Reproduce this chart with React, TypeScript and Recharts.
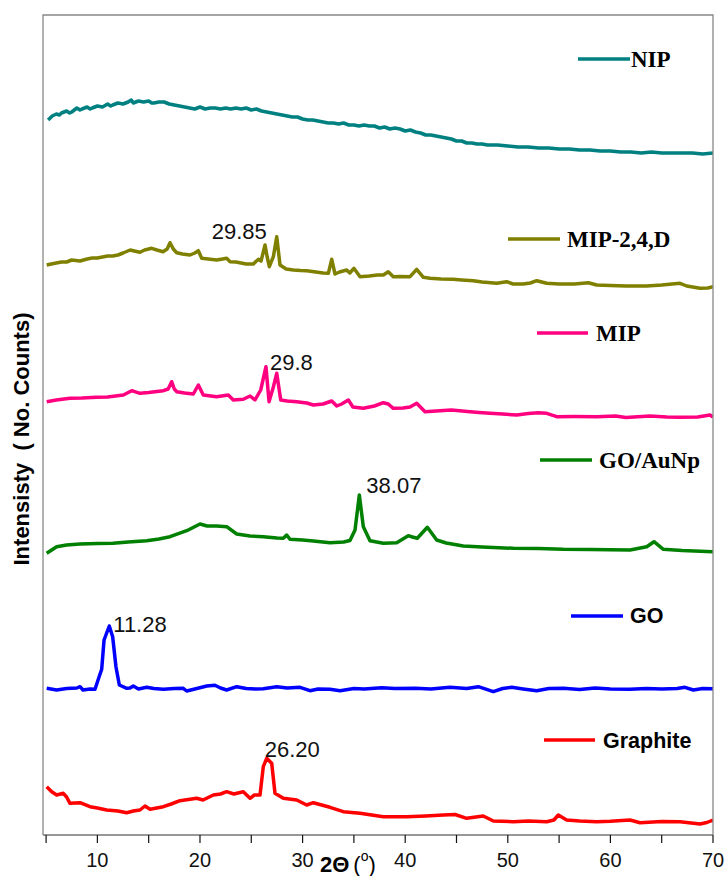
import React from 'react';
import { LineChart, Line, XAxis, YAxis, ReferenceDot } from 'recharts';

// 2θ (degrees) and intensity (arbitrary counts, stacked offsets)
const NIP: number[][] = [[5.2,715],[5.6,719],[6,721],[6.3,720],[6.5,722],[7,724],[7.3,722],[7.5,723],[8,727],[8.3,725],[8.5,726],[9,728],[9.3,726],[9.5,727],[10,729],[10.5,728],[11,731],[11.3,729],[11.5,730],[12,732],[12.5,731],[13,733],[13.3,735],[13.5,732],[14,734],[14.5,733],[15,734],[15.3,732],[15.5,732],[16,733],[16.5,733],[17,731],[17.5,730],[18,729],[18.5,728],[19,727],[19.5,726],[20,728],[20.5,726],[21,727],[21.5,727],[22,726],[22.5,727],[23,726],[23.5,727],[24,726],[24.5,727],[25,725],[25.5,726],[26,724],[26.5,723],[27,722],[27.5,721],[28,720],[28.5,719],[29,718],[29.5,718],[30,716],[30.5,715],[31,715],[31.5,714],[32,713],[32.5,712],[33,712],[33.5,711],[34,712],[34.5,710],[35,710],[35.5,709],[36,710],[36.5,709],[37,709],[37.5,707],[38,708],[38.5,706],[39,707],[39.5,706],[40,704],[40.5,705],[41,703],[41.5,702],[42,700],[42.5,700],[43,699],[43.5,698],[44,697],[44.5,696],[45,694],[45.5,694],[46,692],[46.5,692],[47,691],[47.5,691],[48,690],[48.5,690],[49,690],[50,689],[51,688],[52,688],[53,687],[54,687],[55,686],[56,686],[57,685],[58,685],[59,684],[60,684],[61,683],[62,683],[63,682],[64,683],[65,682],[66,682],[67,682],[68,682],[69,681],[70,682]];

const MIP_24D: number[][] = [[5.06,570],[5.5,571],[6,572],[6.5,573],[7,573],[7.5,575],[8.3,574],[9,576],[9.5,577],[10,577],[10.5,578],[11,579],[11.5,579],[12,580],[12.5,582],[13.2,585],[13.6,584],[14.15,582.7],[14.6,585],[15.29,586.7],[15.8,585],[16.4,583.3],[16.8,586],[17.08,592.3],[17.4,586],[17.73,582.3],[18.3,581],[19.03,580],[19.5,582],[19.84,584.3],[20.17,576.7],[20.8,576],[21.63,575],[22.2,576],[22.6,576.7],[22.93,573.3],[23.5,573],[24,572],[24.5,571],[25.2,571],[25.5,574],[25.7,575.7],[25.95,574],[26.34,590],[26.55,578],[26.76,568.3],[27.15,578.3],[27.48,598.3],[27.8,570],[28.4,566],[29.1,565],[29.8,564.5],[30.4,564.3],[31.3,563],[32,562],[32.51,561.7],[32.84,575.7],[33.16,561],[33.6,563],[34.3,565],[34.6,562],[35.0,566.7],[35.6,558.3],[36.5,559],[37.3,560],[37.87,560],[38.35,563.3],[38.84,558.3],[39.5,558.5],[40.47,558.3],[41.12,565.7],[41.77,557.7],[42.42,556.7],[43.5,556],[44.66,555.7],[45.5,555],[46.64,554.3],[47.5,553],[48.92,551.7],[49.89,553.3],[50.5,551],[51.51,551],[52.2,552],[52.82,554.3],[53.79,551.7],[55,551],[56.5,551],[57.85,552.3],[58.67,550],[60,549.5],[61.5,549],[63.54,549],[65,550],[66.79,551.7],[67.44,549],[68.74,546.7],[69.5,547],[70,548.3]];

const MIP: number[][] = [[5.06,433.3],[6,435],[7.33,436.7],[8.5,437],[9.94,437.7],[11,438],[12.53,440],[13.35,444.3],[14.15,441.7],[15,442.5],[16.43,444.3],[16.9,446],[17.24,453.3],[17.5,446],[17.73,443.3],[18.5,442],[19.35,441],[19.84,450],[20.32,440],[21.63,438.3],[22.76,440],[23.25,435],[24.22,435.7],[24.88,439],[25.36,435],[25.92,445],[26.43,468.3],[26.73,433.3],[27.15,448],[27.48,461.7],[27.87,435],[28.5,434],[29.43,433.3],[30.4,432],[31.05,430],[32.0,431],[32.84,434],[33.33,429],[33.8,431],[34.46,435],[34.9,428],[35.92,426.7],[37.0,429],[37.87,432.3],[38.35,431],[38.84,426.7],[39.8,427],[40.47,428],[41.12,431.7],[41.93,423.3],[43.39,424.3],[44.5,425],[46.32,423.3],[47.2,422.5],[48.27,421.7],[49.5,421],[50.87,420],[52.0,421.5],[52.97,422.3],[53.79,421.7],[54.77,418.3],[56.5,418.5],[58.67,418.3],[60.5,419],[61.5,417.5],[63.86,419],[65.5,418],[66.79,417.7],[68.5,418],[69.71,420],[70,418]];

const GO_AUNP: number[][] = [[5.06,281.7],[6.03,288.3],[7,290],[8.31,291],[10,291.5],[11.52,291.7],[13,293],[14.81,294.3],[16,296],[17.08,298.3],[18.71,304.3],[20.0,311],[20.7,309],[21.63,309],[22.6,308.3],[23.58,301],[24.88,299],[26.17,298.3],[27.5,297],[28.12,296.7],[28.45,300],[28.77,295.7],[30,295],[31.05,294],[32.67,292.3],[34.0,293],[34.62,294.5],[35.11,305],[35.53,340],[35.92,308.3],[36.57,294.3],[37.87,291.7],[39.17,292.3],[40.3,299.3],[40.7,298],[41.18,296.7],[42.16,307.7],[43.07,295],[44.0,292],[45.66,289],[47.5,288],[50.54,286.7],[53,286.5],[55.41,285.7],[58,285.5],[61.91,285],[63.54,288.3],[64.25,293.3],[65.16,285.7],[67,284.5],[70,283.3]];

const GO: number[][] = [[5.06,146.7],[6.03,145],[7,146.5],[8.0,147],[8.31,148.3],[8.6,145],[9.28,146],[9.77,145.7],[10.09,155.7],[10.42,165.7],[10.65,195],[11.16,209],[11.49,198.3],[11.81,168.3],[12.14,150],[12.86,146.7],[13.18,147],[13.5,149],[14.0,146],[14.81,147.7],[15.5,146.5],[16.43,145.7],[17.5,146.5],[18.37,146.7],[18.7,144],[19.5,146],[20.66,149],[21.46,149.7],[22.0,147],[22.6,145],[23.58,148.3],[24.5,146.5],[25.4,146],[26.17,146.3],[27.0,147.5],[27.48,148.3],[28.5,147],[29.75,147.7],[30.72,144.3],[31.5,146],[32.67,145.7],[33.65,144.3],[35,146.5],[36,146],[37.71,147.3],[39,146.5],[41,146.8],[42.5,146],[44.37,147.7],[46,146.5],[47.13,148.3],[48.59,143.3],[49.5,146.5],[50.38,147.7],[51.5,146],[52.82,144.3],[54,146.5],[55.41,146.7],[57,145.5],[58.5,147],[60,146],[61.91,145.7],[63.5,146.5],[65,146],[66.5,146.5],[67.27,147.7],[68.08,145],[69,146.5],[70,146.3]];

const GRAPHITE: number[][] = [[5.06,48.3],[5.55,43.3],[6.03,40],[6.68,41.7],[7.0,38],[7.33,31.7],[8.31,32.3],[9.28,28.3],[10.0,27],[10.91,25],[12.0,24],[12.86,22.3],[13.5,24],[14.15,25],[14.64,29],[15.13,25.7],[16.43,28.3],[17.2,31],[18.05,34.3],[19.68,36.7],[20.3,35],[21.3,40],[22.0,41],[22.6,43.3],[23.3,41],[24.22,43.3],[24.88,36.7],[25.3,40],[25.85,40],[26.17,68.3],[26.5,76.7],[26.99,71.7],[27.31,41.7],[28.12,36.7],[29.43,35],[30.4,30],[31.05,32.3],[32.67,27.7],[33.97,23.3],[35.6,21.7],[37.87,18.3],[40.15,18.3],[42.0,19],[43.72,20],[44.86,20.5],[45.99,16.7],[47.61,19],[48.59,14],[50.54,13.3],[52,14],[53.79,13.3],[54.5,15],[54.92,20],[55.74,15],[57,14],[58.67,13.3],[60,13.8],[61.91,15],[62.89,12.3],[65,13.5],[66.79,13.3],[68.74,11],[69.4,12.5],[70,15]];

const X_TICKS = [5, 10, 15, 20, 25, 30, 35, 40, 45, 50, 55, 60, 65, 70];

// peak annotations: [2θ, intensity, text, dx, dy]
const ANNOTATIONS: [number, number, string, number, number][] = [
  [27.48, 598.3, '29.85', -65, 2],
  [26.43, 468.3, '29.8', 4, 3],
  [35.53, 340, '38.07', 7, -2],
  [11.16, 209, '11.28', 4, 6],
  [26.5, 76.7, '26.20', -2, -1],
];

const toPts = (a: number[][]) => a.map(([x, y]) => ({ x, y }));

const SERIES = [
  { name: 'NIP', data: NIP, color: '#008080' },
  { name: 'MIP-2,4,D', data: MIP_24D, color: '#808000' },
  { name: 'MIP', data: MIP, color: '#ff0080' },
  { name: 'GO/AuNp', data: GO_AUNP, color: '#008000' },
  { name: 'GO', data: GO, color: '#0000ff' },
  { name: 'Graphite', data: GRAPHITE, color: '#ff0000' },
];

const annLabel = (text: string, dx: number, dy: number) => (props: any) => {
  const vb = props.viewBox || {};
  const cx = (vb.x || 0) + (vb.width || 0) / 2;
  const cy = (vb.y || 0) + (vb.height || 0) / 2;
  return (
    <text x={cx + dx} y={cy + dy} fontFamily="Arial, 'Liberation Sans', sans-serif" fontSize={22} fill="#111">
      {text}
    </text>
  );
};

const legendItems = [
  { name: 'NIP', color: '#008080', x1: 578, x2: 630, y: 59, tx: 631, ty: 67, serif: true },
  { name: 'MIP-2,4,D', color: '#808000', x1: 508, x2: 560, y: 239, tx: 567, ty: 247, serif: true },
  { name: 'MIP', color: '#ff0080', x1: 537, x2: 588, y: 333, tx: 596, ty: 341, serif: true },
  { name: 'GO/AuNp', color: '#008000', x1: 540, x2: 592, y: 460, tx: 599, ty: 468, serif: true },
  { name: 'GO', color: '#0000ff', x1: 571, x2: 623, y: 616, tx: 630, ty: 623, serif: false },
  { name: 'Graphite', color: '#ff0000', x1: 544, x2: 595, y: 740, tx: 603, ty: 748, serif: false },
];

const PLOT = { left: 43, top: 15, right: 713, bottom: 835 };

export default function App() {
  return (
    <div style={{ position: 'absolute', left: 0, top: 0, width: 728, height: 876, background: '#fff' }}>
      <LineChart width={728} height={876} margin={{ top: 15, right: 15, bottom: 11, left: 43 }}>
        <XAxis
          dataKey="x"
          type="number"
          domain={[4.7, 70]}
          ticks={X_TICKS}
          allowDataOverflow
          height={30}
          tickSize={8}
          tickMargin={10}
          axisLine={{ stroke: '#333', strokeWidth: 1.2 }}
          tickLine={{ stroke: '#111', strokeWidth: 1.2 }}
          tick={{ fill: '#111', fontSize: 20, fontFamily: "Arial, 'Liberation Sans', sans-serif" }}
          tickFormatter={(v: number) => (v % 10 === 0 ? String(v) : '')}
        />
        <YAxis type="number" domain={[0, 820]} hide />
        {SERIES.map((s) => (
          <Line
            key={s.name}
            data={toPts(s.data)}
            dataKey="y"
            name={s.name}
            type="linear"
            stroke={s.color}
            strokeWidth={3.5}
            strokeLinejoin="round"
            dot={false}
            activeDot={false}
            isAnimationActive={false}
          />
        ))}
        {ANNOTATIONS.map(([x, y, t, dx, dy]) => (
          <ReferenceDot key={t} x={x} y={y} r={0} fill="none" stroke="none" label={annLabel(t, dx, dy)} />
        ))}
      </LineChart>
      <svg width={728} height={876} style={{ position: 'absolute', left: 0, top: 0, pointerEvents: 'none' }}>
        <polyline
          points={`${PLOT.left},${PLOT.bottom} ${PLOT.left},${PLOT.top} ${PLOT.right},${PLOT.top} ${PLOT.right},${PLOT.bottom}`}
          fill="none"
          stroke="#888"
          strokeWidth={1.3}
        />
        {legendItems.map((l) => (
          <g key={l.name}>
            <line x1={l.x1} x2={l.x2} y1={l.y} y2={l.y} stroke={l.color} strokeWidth={3.5} />
            <text
              x={l.tx}
              y={l.ty}
              fontFamily={l.serif ? "'Liberation Serif', 'Times New Roman', serif" : "Arial, 'Liberation Sans', sans-serif"}
              fontWeight="bold"
              fontSize={l.serif ? 23 : 21.5}
              fill="#000"
            >
              {l.name}
            </text>
          </g>
        ))}
        <text
          transform="translate(29, 439) rotate(-90)"
          textAnchor="middle"
          fontFamily="Arial, 'Liberation Sans', sans-serif"
          fontWeight="bold"
          fontSize={22}
          fill="#000"
        >
          {'Intensisty\u00a0\u00a0( No. Counts)'}
        </text>
        <text x={320} y={872} fontFamily="Arial, 'Liberation Sans', sans-serif" fontSize={22} fill="#000">
          <tspan fontWeight="bold">2Θ</tspan>
          <tspan dx={4} fontWeight="normal">(</tspan>
          <tspan dy={-11} fontSize={14}>o</tspan>
          <tspan dy={11}>)</tspan>
        </text>
      </svg>
    </div>
  );
}
